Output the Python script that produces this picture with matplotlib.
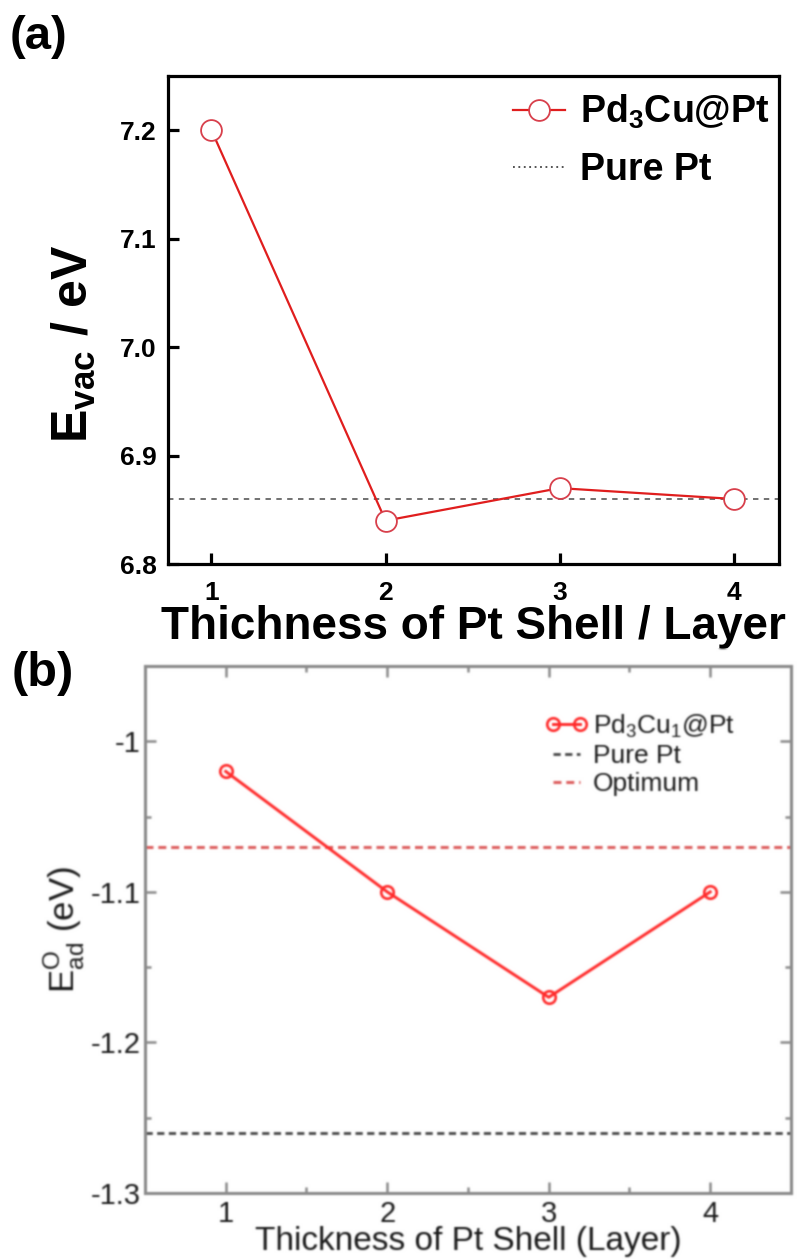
import numpy as np
import matplotlib
matplotlib.use("Agg")
import matplotlib.pyplot as plt
from matplotlib.lines import Line2D
from matplotlib.ticker import FixedLocator, FuncFormatter
from matplotlib import font_manager

#%% data
layers = [1, 2, 3, 4]
evac = [7.20, 6.84, 6.87, 6.86]      # vacancy formation energy, Pd3Cu@Pt
evac_pure_pt = 6.86
ead_o = [-1.02, -1.10, -1.17, -1.10]  # O adsorption energy, Pd3Cu1@Pt
ead_pure_pt = -1.26
ead_optimum = -1.07

#%% fonts
names = set(f.name for f in font_manager.fontManager.ttflist)
narrow = "Liberation Sans Narrow" if "Liberation Sans Narrow" in names else "Liberation Sans"
plt.rcParams["font.family"] = ["Liberation Sans", "DejaVu Sans"]
plt.rcParams["mathtext.fontset"] = "custom"
plt.rcParams["mathtext.rm"] = "Liberation Sans"
plt.rcParams["mathtext.bf"] = "Liberation Sans:bold"

fig = plt.figure(figsize=(8.01, 12.59), dpi=100)

#%% panel (a)
ax1 = fig.add_axes([0.2097, 0.552, 0.9725 - 0.2097, 0.9396 - 0.552])
ax1.plot(layers, evac, "-", color="#e01e1e", lw=1.6,
         marker="o", ms=15, mfc="white", mec="#d8404c", mew=1.3, zorder=3)
ax1.axhline(evac_pure_pt, color="#666666", lw=1.3, ls=(0, (3, 3)), zorder=2)
ax1.set_xlim(0.75, 4.26)
ax1.set_ylim(6.8, 7.25)
ax1.set_xticks(layers)
ax1.set_yticks([6.8, 6.9, 7.0, 7.1, 7.2])
ax1.yaxis.set_major_formatter(FuncFormatter(lambda v, p: "%.1f" % v))
for s in ax1.spines.values():
    s.set_linewidth(2.3)
ax1.tick_params(direction="in", length=8, width=2.3, labelsize=19, pad=8)
for t in ax1.get_xticklabels() + ax1.get_yticklabels():
    t.set_fontweight("bold")
ax1.tick_params(axis="x", pad=12)
ax1.set_xlabel("Thichness of Pt Shell / Layer", fontsize=33, fontweight="bold")
ax1.xaxis.set_label_coords(0.50, -0.083)
ax1.set_ylabel(r"E$_\mathbf{vac}$ / eV", fontsize=36, fontweight="bold")
ax1.yaxis.set_label_coords(-0.115, 0.45)

h1 = [Line2D([], [], color="#e01e1e", lw=1.6, marker="o", ms=15, mfc="white",
             mec="#d8404c", mew=1.3),
      Line2D([], [], color="#444444", lw=1.3, ls=(0, (1, 2)))]
leg1 = ax1.legend(h1, [r"Pd$_\mathbf{3}$Cu@Pt", "Pure Pt"], loc="upper right",
                  bbox_to_anchor=(0.985, 0.965), frameon=False, borderpad=0,
                  borderaxespad=0, handlelength=1.4, handletextpad=0.4,
                  labelspacing=0.55, numpoints=1,
                  prop={"size": 27, "weight": "bold"})

fig.text(0.012, 0.988, "(a)", fontsize=34, fontweight="bold", va="top")

#%% panel (b)
grey = "#8a8a8a"
txt = "#1a1a1a"
red = "#ff2a2a"
ax2 = fig.add_axes([0.181, 0.0524, 0.9875 - 0.181, 0.471 - 0.0524])
ax2.plot(layers, ead_o, "-", color=red, lw=2.1,
         marker="o", ms=9, mfc="none", mec=red, mew=1.9, zorder=3)
ax2.axhline(ead_pure_pt, color="#444444", lw=2.0, ls=(0, (2.6, 1.6)), zorder=2)
ax2.axhline(ead_optimum, color="#dd6060", lw=2.2, ls=(0, (2.6, 1.6)), zorder=2)
ax2.set_xlim(0.5, 4.5)
ax2.set_ylim(-1.3, -0.95)
ax2.xaxis.set_major_locator(FixedLocator(layers))
ax2.xaxis.set_minor_locator(FixedLocator([1.5, 2.5, 3.5]))
ax2.yaxis.set_major_locator(FixedLocator([-1.3, -1.2, -1.1, -1.0]))
ax2.yaxis.set_minor_locator(FixedLocator([-1.25, -1.15, -1.05]))
ax2.yaxis.set_major_formatter(FuncFormatter(lambda v, p: "%g" % round(v, 2)))
for s in ax2.spines.values():
    s.set_linewidth(2.2)
    s.set_color(grey)
ax2.tick_params(which="both", direction="in", top=True, right=True,
                color=grey, width=1.8, labelcolor=txt)
ax2.tick_params(which="major", length=8, labelsize=21)
ax2.tick_params(which="minor", length=4)
ax2.tick_params(axis="x", pad=5)
ax2.tick_params(axis="y", pad=3)
for t in ax2.get_xticklabels() + ax2.get_yticklabels():
    t.set_fontfamily(narrow)
ax2.set_xlabel("Thickness of Pt Shell (Layer)", fontsize=24, color=txt,
               family=narrow)
ax2.xaxis.set_label_coords(0.50, -0.062)
ax2.set_ylabel(r"E$^{\rm O}_{\rm ad}$ (eV)", fontsize=25, color=txt,
               family=narrow)
ax2.yaxis.set_label_coords(-0.09, 0.5)

h2 = [Line2D([], [], color=red, lw=2.1, marker="o", ms=9, mfc="none",
             mec=red, mew=1.9),
      Line2D([], [], color="#444444", lw=2.0, ls=(0, (2.6, 1.6))),
      Line2D([], [], color="#dd6060", lw=2.2, ls=(0, (2.6, 1.6)))]
leg2 = ax2.legend(h2, [r"Pd$_3$Cu$_1$@Pt", "Pure Pt", "Optimum"],
                  loc="upper left", bbox_to_anchor=(0.62, 0.912), frameon=False,
                  borderpad=0, borderaxespad=0, handlelength=1.6,
                  handletextpad=0.2, labelspacing=0.16, numpoints=2,
                  prop={"size": 19, "family": narrow})
for t in leg2.get_texts():
    t.set_color(txt)

fig.text(0.014, 0.483, "(b)", fontsize=35, fontweight="bold", va="top")

#%% lower panel comes from a low-res scan, soften it a little (not the "(b)" tag)
fig.canvas.draw()
img = np.asarray(fig.canvas.buffer_rgba()).astype(float) / 255.0
sharp = img.copy()
y0 = 648
sig = 0.9
r = np.arange(-3, 4)
k = np.exp(-r**2 / (2 * sig**2))
k /= k.sum()
part = np.pad(img[y0:], ((3, 3), (3, 3), (0, 0)), mode="edge")
tmp = sum(w * part[3 + d:part.shape[0] - 3 + d] for w, d in zip(k, r))
out = sum(w * tmp[:, 3 + d:tmp.shape[1] - 3 + d] for w, d in zip(k, r))
img[y0:] = out
img[y0:712, :95] = sharp[y0:712, :95]
plt.imsave("out.png", np.clip(img, 0, 1))
